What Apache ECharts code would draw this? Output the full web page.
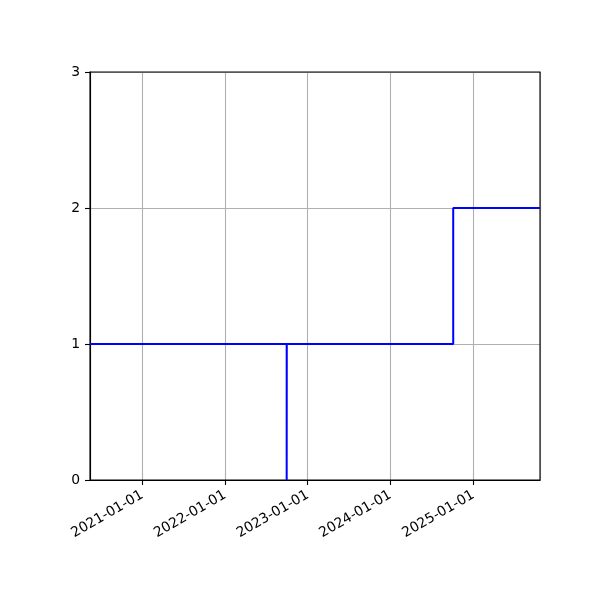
<!DOCTYPE html>
<html>
<head>
    <meta charset="UTF-8">
    <script src="https://cdn.jsdelivr.net/npm/echarts@6/dist/echarts.min.js"></script>
    <title>step</title>
</head>
<body style="margin:0">
<div id="main" style="width:600px;height:600px"></div>
<script type="text/javascript">

    // data
    var dates = ['2020-05-15', '2022-09-30', '2022-09-30T12:00:00Z', '2024-10-04', '2025-10-22'];
    var values = [1, 0, 1, 2, 2];
    var xMin = '2020-05-15';
    var xMax = '2025-10-22';
    var yTicks = [0, 1, 2, 3];

    var DAY = 24 * 3600 * 1000;
    var pts = [];
    for (var i = 0; i < dates.length; i++) {
        pts.push([Date.parse(dates[i]), values[i]]);
    }

    function pad(n) { return n < 10 ? '0' + n : '' + n; }

    var myChart = echarts.init(document.getElementById('main'));
    myChart.setOption({
        useUTC: true,
        animation: false,
        textStyle: {fontFamily: 'DejaVu Sans'},
        grid: {left: 90, right: 60, top: 72, bottom: 120, show: true, borderColor: '#000', borderWidth: 1.1, z: 3},
        xAxis: {
            type: 'time',
            min: Date.parse(xMin),
            max: Date.parse(xMax),
            minInterval: 365 * DAY,
            maxInterval: 366 * DAY,
            axisLine: {show: true, onZero: false, lineStyle: {color: '#000', width: 1.1}},
            axisTick: {show: true, length: 5, lineStyle: {color: '#000', width: 1.1}},
            splitLine: {show: true, lineStyle: {color: '#b0b0b0', width: 1.1}},
            axisLabel: {
                rotate: 30,
                color: '#000',
                fontSize: 13.9,
                margin: 14,
                showMinLabel: false,
                showMaxLabel: false,
                formatter: function (v) {
                    var d = new Date(v);
                    return d.getUTCFullYear() + '-' + pad(d.getUTCMonth() + 1) + '-' + pad(d.getUTCDate());
                }
            }
        },
        yAxis: {
            type: 'value',
            min: yTicks[0],
            max: yTicks[yTicks.length - 1],
            interval: 1,
            axisLine: {show: true, lineStyle: {color: '#000', width: 1.1}},
            axisTick: {show: true, length: 5, lineStyle: {color: '#000', width: 1.1}},
            splitLine: {show: true, lineStyle: {color: '#b0b0b0', width: 1.1}},
            axisLabel: {color: '#000', fontSize: 13.9, margin: 10}
        },
        series: [{
            type: 'line',
            step: 'end',
            data: pts,
            showSymbol: false,
            lineStyle: {color: '#0000ff', width: 2}
        }]
    });

</script>
</body>
</html>
